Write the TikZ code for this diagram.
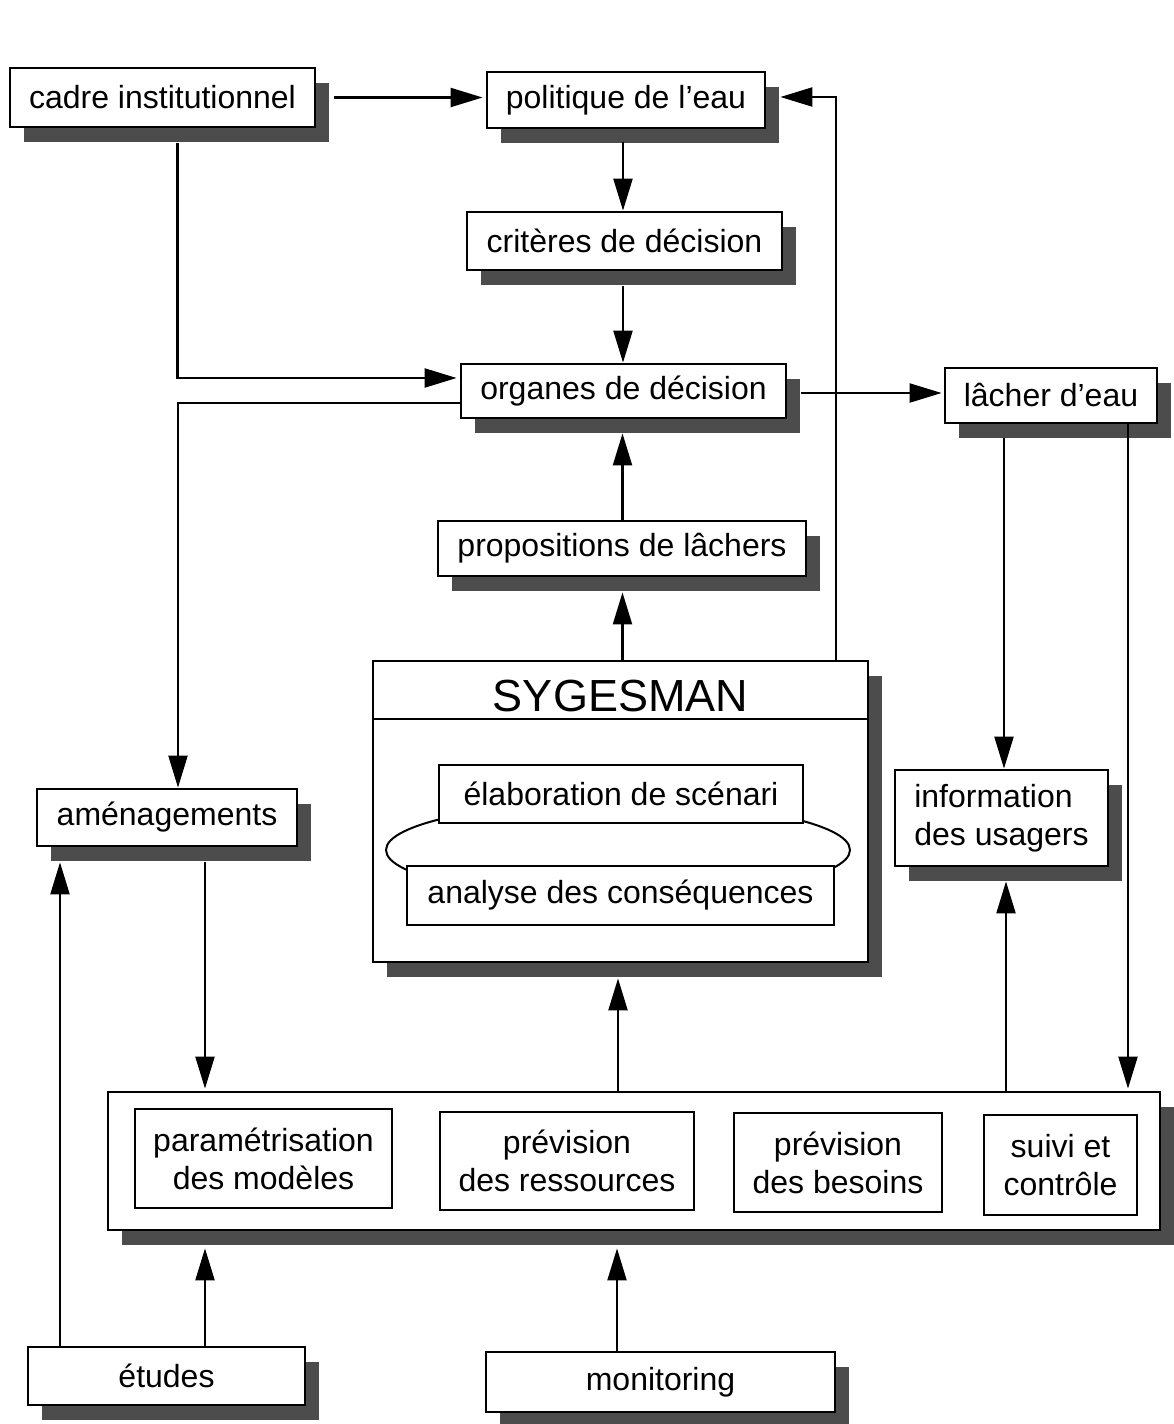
\documentclass[tikz,border=0pt]{standalone}
\usepackage{fontspec}
\setmainfont{Liberation Sans}
\usetikzlibrary{arrows.meta,calc,shadows}
\begin{document}
\begin{tikzpicture}[x=1pt,y=-1pt,
  box/.style={draw,line width=2.8pt,fill=white,inner sep=0pt,align=center,font=\fontsize{32}{38}\selectfont},
  shbox/.style={box,drop shadow={shadow xshift=14pt,shadow yshift=-15pt,fill=black!70,opacity=1}},
  arr/.style={line width=2.2pt,-{Triangle[length=32pt,width=19pt]}},
  ln/.style={line width=2pt}]
\useasboundingbox (0,0) rectangle (1173,1424);

% top boxes
\node[shbox,minimum width=305pt,minimum height=59pt] (cadre) at (162.5,97.5) {cadre institutionnel};
\node[shbox,minimum width=278pt,minimum height=56pt] (pol) at (626,100) {politique de l’eau};
\node[shbox,minimum width=315pt,minimum height=58pt] (crit) at (624.5,241) {critères de décision};
\node[shbox,minimum width=325pt,minimum height=54pt] (org) at (623.5,391) {organes de décision};
\node[shbox,minimum width=212pt,minimum height=55pt] (lach) at (1051,395.5) {lâcher d’eau};
\node[shbox,minimum width=368pt,minimum height=55pt] (prop) at (622,548.5) {propositions de lâchers};

% SYGESMAN
\node[shbox,minimum width=495pt,minimum height=301pt] (syg) at (620.5,811.5) {};
\draw[line width=2pt] ($(syg.north west)+(0,59)$) -- ($(syg.north east)+(0,59)$);
\node[font=\fontsize{45}{50}\selectfont,inner sep=0pt] (sygt) at ($(syg.north)+(0,36)$) {SYGESMAN};
\draw[line width=2pt] (618,850) ellipse [x radius=232, y radius=48];
\node[box,minimum width=364pt,minimum height=58pt] (elab) at (621,794) {élaboration de scénari};
\node[box,minimum width=427pt,minimum height=59pt] (anal) at (620.5,895.5) {analyse des conséquences};

% side boxes
\node[shbox,minimum width=260pt,minimum height=57pt] (amen) at (167,817.5) {aménagements};
\node[shbox,minimum width=213pt,minimum height=96pt,align=left] (info) at (1001.5,818) {information\\des usagers};

% bottom big box
\node[shbox,minimum width=1052pt,minimum height=138pt] (big) at (634,1161) {};
\node[box,minimum width=257pt,minimum height=99pt] (param) at (263.5,1158.5) {paramétrisation\\des modèles};
\node[box,minimum width=254pt,minimum height=98pt] (pres) at (567,1161) {prévision\\des ressources};
\node[box,minimum width=208pt,minimum height=99pt] (pbes) at (838,1162.5) {prévision\\des besoins};
\node[box,minimum width=153pt,minimum height=100pt] (suivi) at (1060.5,1165) {suivi et\\contrôle};

% bottom sources
\node[shbox,minimum width=277pt,minimum height=58pt] (etud) at (166.5,1376) {études};
\node[shbox,minimum width=349pt,minimum height=60pt] (moni) at (660.5,1382) {monitoring};

% connectors
\draw[arr] ([xshift=18pt]cadre.east) -- ([xshift=-3pt]cadre.east -| pol.west);
\coordinate (polS) at ($(crit.north)+(-1.5,-69)$);
\draw[arr] (polS) -- (polS |- crit.north);
\coordinate (critS) at ($(crit.south)+(-1.5,15)$);
\draw[arr] (critS) -- (critS |- org.north);
\draw[arr] ($(cadre.south)+(15,15)$) |- ($(org.west)+(-3,-13)$);
\draw[arr] ($(org.west)+(0,12)$) -| ($(amen.north)+(11,0)$);
\coordinate (orgE) at ($(org.east)+(14,2)$);
\draw[arr] (orgE) -- ($(orgE -| lach.west)+(-2,0)$);
\coordinate (propN) at ($(prop.north)+(0.5,0)$);
\draw[arr] (propN) -- ($(propN |- org.south)+(0,14)$);
\coordinate (sygN) at ($(syg.north)+(2,0)$);
\draw[arr] (sygN) -- ($(sygN |- prop.south)+(0,15)$);
\draw[arr] ($(syg.north)+(215.5,0)$) |- ($(pol.east)+(14,-3)$);
\coordinate (lachA) at ($(lach.south)+(-47,14)$);
\draw[arr] (lachA) -- (lachA |- info.north);
\coordinate (lachB) at ($(lach.south)+(77,0)$);
\draw[arr] (lachB) -- ($(lachB |- big.north)+(0,-2)$);
\coordinate (infotip) at ($(info.south)+(4.5,14)$);
\draw[arr] (big.north -| infotip) -- (infotip);
\coordinate (amenA) at ($(amen.south)+(38,15)$);
\draw[arr] (amenA) -- ($(amenA |- big.north)+(0,-2)$);
\coordinate (etudA) at ($(etud.north)+(-106.5,0)$);
\draw[arr] (etudA) -- ($(etudA |- amen.south)+(0,15)$);
\coordinate (etudB) at ($(etud.north)+(38.5,0)$);
\draw[arr] (etudB) -- ($(etudB |- big.south)+(0,17)$);
\coordinate (sygB) at ($(syg.south)+(-2.5,15)$);
\draw[arr] (big.north -| sygB) -- (sygB);
\coordinate (moniA) at ($(moni.north)+(-43.5,0)$);
\draw[arr] (moniA) -- ($(moniA |- big.south)+(0,17)$);
\end{tikzpicture}
\end{document}
